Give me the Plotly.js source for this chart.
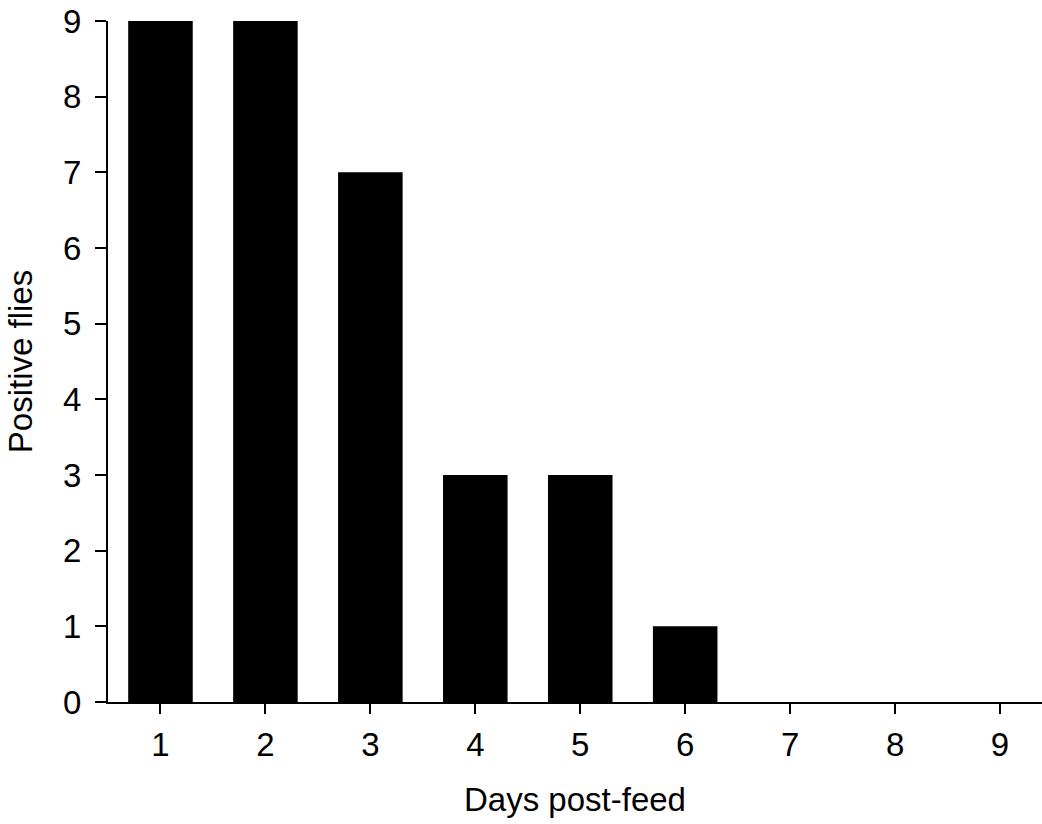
<!DOCTYPE html>
<html>
<head>
<meta charset="utf-8">
<script src="https://cdn.plot.ly/plotly-3.0.1.min.js"></script>
<style>html,body{margin:0;padding:0;background:#fff;}#chart{width:1042px;height:824px;}</style>
</head>
<body>
<div id="chart"></div>
<script>
var days = [1, 2, 3, 4, 5, 6, 7, 8, 9];
var positiveFlies = [9, 9, 7, 3, 3, 1, 0, 0, 0];
var xTickLabels = ["1", "2", "3", "4", "5", "6", "7", "8", "9"];
var yTickValues = [0, 1, 2, 3, 4, 5, 6, 7, 8, 9];

var trace = {
  type: 'bar',
  x: days,
  y: positiveFlies,
  marker: {color: '#000000', line: {width: 0}},
  hoverinfo: 'x+y'
};

var layout = {
  width: 1042,
  height: 824,
  margin: {l: 108, r: 0, t: 21, b: 122},
  paper_bgcolor: '#ffffff',
  plot_bgcolor: '#ffffff',
  font: {family: 'Liberation Sans, Arial, sans-serif', color: '#000000', size: 33},
  bargap: 0.385,
  showlegend: false,
  xaxis: {
    range: [0.5, 9.4],
    tickmode: 'array',
    tickvals: days,
    ticktext: xTickLabels,
    ticks: 'outside',
    ticklen: 10,
    tickwidth: 2,
    tickcolor: '#000000',
    showline: true,
    linecolor: '#000000',
    linewidth: 2,
    showgrid: false,
    zeroline: false,
    tickfont: {size: 33},
    ticklabelstandoff: 2,
    title: {text: 'Days post-feed', font: {size: 33}, standoff: 26}
  },
  yaxis: {
    range: [0, 9],
    tickmode: 'array',
    tickvals: yTickValues,
    ticks: 'outside',
    ticklen: 11,
    tickwidth: 2,
    tickcolor: '#000000',
    showline: true,
    linecolor: '#000000',
    linewidth: 2,
    showgrid: false,
    zeroline: false,
    tickfont: {size: 33},
    ticklabelstandoff: 7,
    title: {text: 'Positive flies', font: {size: 33}, standoff: 20}
  }
};

Plotly.newPlot('chart', [trace], layout, {displayModeBar: false, staticPlot: true});
</script>
</body>
</html>
